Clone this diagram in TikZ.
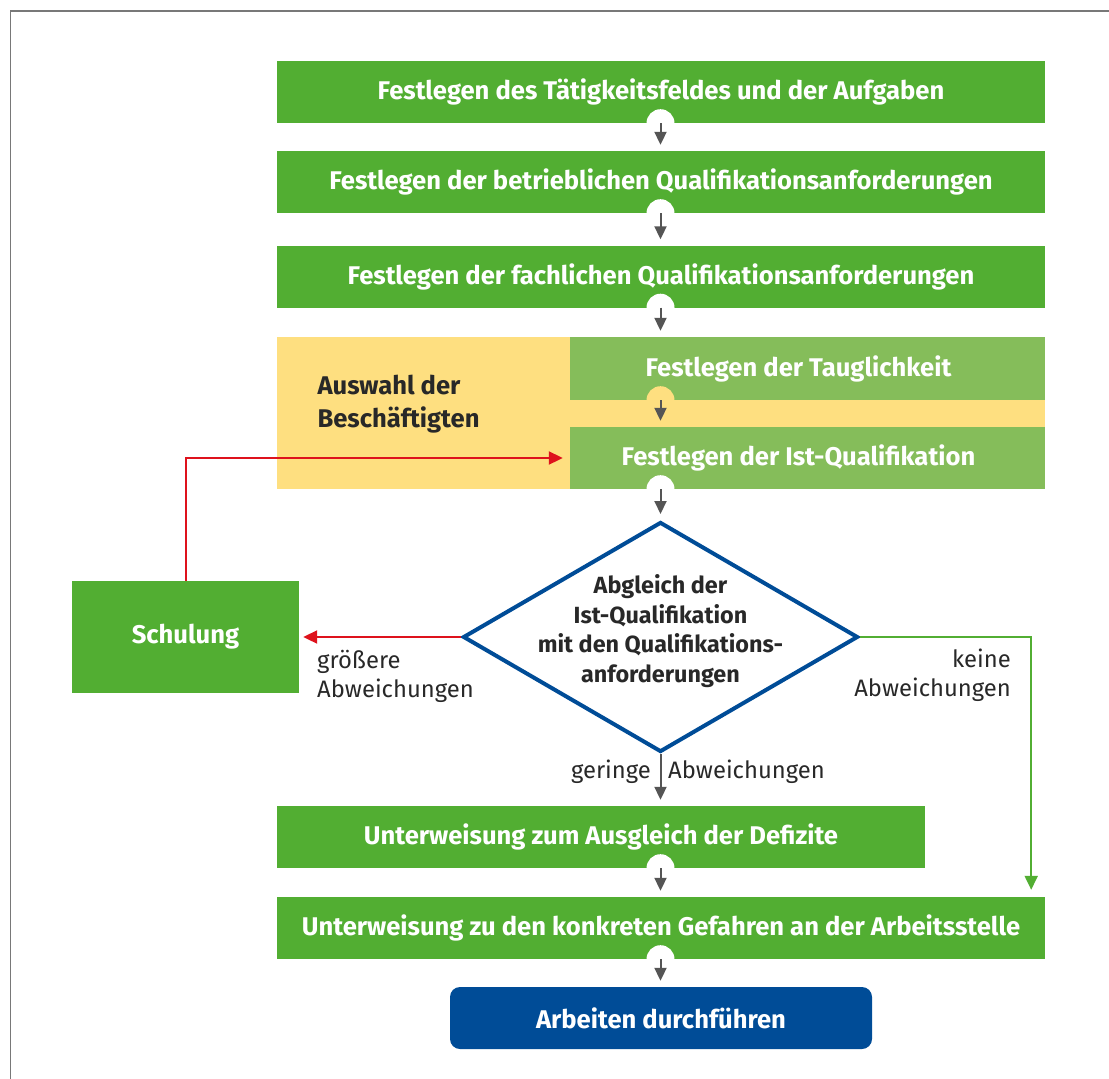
\documentclass[tikz,border=0pt]{standalone}
\usepackage{fontspec}
\setmainfont{Fira Sans}
\usetikzlibrary{arrows.meta,positioning,shapes.geometric,calc}
\definecolor{dguvgreen}{RGB}{82,174,50}
\definecolor{lightgreen}{RGB}{133,189,90}
\definecolor{selyellow}{RGB}{254,223,128}
\definecolor{dguvblue}{RGB}{0,76,151}
\definecolor{flowgray}{RGB}{85,85,85}
\definecolor{flowred}{RGB}{222,18,28}
\definecolor{textdark}{RGB}{40,40,40}
\definecolor{framegray}{RGB}{120,120,120}

\begin{document}
\begin{tikzpicture}[x=1pt, y=-1pt,
		box/.style={fill=dguvgreen, text=white, inner sep=0pt, minimum height=62pt, font=\bfseries\fontsize{25.6}{30}\selectfont},
		subbox/.style={box, fill=lightgreen, minimum width=475pt, execute at begin node={\hspace*{-18pt}}},
		endbox/.style={box, fill=dguvblue, rounded corners=10pt, minimum width=422pt},
		check/.style={diamond, draw=dguvblue, line width=4pt, inner sep=0pt, minimum width=395pt, minimum height=230pt},
		checktext/.style={align=center, text=textdark, font=\bfseries\fontsize{23.4}{29.5}\selectfont},
		lbl/.style={text=textdark, inner sep=0pt, font=\fontsize{23.8}{29}\selectfont},
		flow/.style={-{Triangle[length=13pt,width=12pt]}, line width=2pt, flowgray},
		redflow/.style={-{Triangle[length=14pt,width=13pt]}, line width=2pt, flowred},
		greenflow/.style={-{Triangle[length=14pt,width=13pt]}, line width=2pt, dguvgreen}]
	\useasboundingbox (0,0) rectangle (1109,1079);
	\draw[framegray, line width=1.5pt] (10.5,1079) -- (10.5,11) -- (1109,11);

	\node[box, minimum width=768pt] (fest) at (661,92) {Festlegen des Tätigkeitsfeldes und der Aufgaben};
	\node[box, minimum width=768pt] (betr) at (661,182) {Festlegen der betrieblichen Qualifikationsanforderungen};
	\node[box, minimum width=768pt] (fach) at (661,276.5) {Festlegen der fachlichen Qualifikationsanforderungen};
	\node[fill=selyellow, inner sep=0pt, minimum width=768pt, minimum height=152pt] (ausw) at (661,413) {};
	\node[subbox, minimum height=63pt] (taug) at (807.5,368.5) {Festlegen der Tauglichkeit};
	\node[subbox] (istq) at (807.5,458) {Festlegen der Ist-Qualifikation};
	\node[anchor=west, align=left, text=textdark, font=\bfseries\fontsize{25.6}{33}\selectfont] (auswt) at (314,404) {Auswahl der\\Beschäftigten};
	\node[check] (abgl) at (660.5,637) {};
	\node[checktext] (abglt) at (660.5,631) {Abgleich der\\Ist-Qualifikation\\mit den Qualifikations-\\anforderungen};
	\node[box, minimum width=227pt, minimum height=112pt] (schul) at (185.5,637) {Schulung};
	\node[box, minimum width=648pt] (ausg) at (601,837) {Unterweisung zum Ausgleich der Defizite};
	\node[box, minimum width=768pt] (gef) at (661,928) {Unterweisung zu den konkreten Gefahren an der Arbeitsstelle};
	\node[endbox] (arb) at (661,1018) {Arbeiten durchführen};

	\foreach \n in {fest,betr,fach,istq,ausg,gef}
		\fill[white] (abgl.north |- \n.south) circle (14pt);
	\fill[selyellow] (abgl.north |- taug.south) circle (14pt);
	\foreach \a/\b in {fest/betr,betr/fach,fach/taug,taug/istq,istq/abgl,ausg/gef,gef/arb}
		\draw[flow, shorten >=6pt] (abgl.north |- \a.south) -- (abgl.north |- \b.north);

	\draw[flow, shorten >=6pt] (abgl.south) -- (abgl.south |- ausg.north);
	\draw[redflow, shorten >=4pt] (abgl.west) -- (schul.east);
	\draw[redflow, shorten >=7pt] (schul.north) |- (istq.west);
	\draw[greenflow, shorten >=7pt] (abgl.east) -| ([xshift=-14pt]gef.north east);

	\node[lbl, anchor=north west, align=left] (groe) at (317,650) {größere\\Abweichungen};
	\node[lbl, anchor=north east, align=right] (kein) at (1011,649) {keine\\Abweichungen};
	\node[lbl, anchor=east] (ger) at (651,772) {geringe};
	\node[lbl, anchor=west] (abw) at (668,772) {Abweichungen};
\end{tikzpicture}
\end{document}
